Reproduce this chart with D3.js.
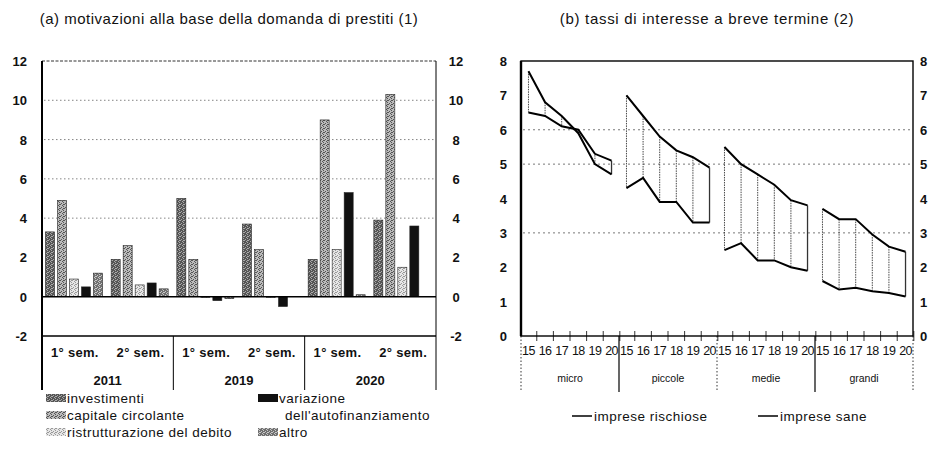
<!DOCTYPE html>
<html>
<head>
<meta charset="utf-8">
<script src="https://cdn.jsdelivr.net/npm/d3@7/dist/d3.min.js"></script>
<style>
  body { margin: 0; background: #fff; }
  text { font-family: "Liberation Sans", Arial, sans-serif; fill: #111; }
</style>
</head>
<body>
<div class="chart"></div>
<script>
var width = 933,
    height = 452;

// ---- data: panel (a)
var years = ["2011", "2019", "2020"];
var semesters = ["1° sem.", "2° sem."];
var seriesA = ["investimenti", "capitale circolante", "ristrutturazione del debito",
               "variazione dell'autofinanziamento", "altro"];
var investimenti = [3.3, 1.9, 5.0, 3.7, 1.9, 3.9];
var capitale = [4.9, 2.6, 1.9, 2.4, 9.0, 10.3];
var ristrutturazione = [0.9, 0.6, -0.05, -0.05, 2.4, 1.5];
var variazione = [0.5, 0.7, -0.2, -0.5, 5.3, 3.6];
var altro = [1.2, 0.4, -0.1, 0.0, 0.1, 0.0];
var ticksA = [-2, 0, 2, 4, 6, 8, 10, 12];
var gridA = [4, 6, 8, 10];

// ---- data: panel (b)
var groups = ["micro", "piccole", "medie", "grandi"];
var yearsB = ["15", "16", "17", "18", "19", "20"];
var rischiose = {
  micro:   [7.7, 6.8, 6.4, 5.9, 5.0, 4.7],
  piccole: [7.0, 6.4, 5.8, 5.4, 5.2, 4.9],
  medie:   [5.5, 5.0, 4.7, 4.4, 3.95, 3.8],
  grandi:  [3.7, 3.4, 3.4, 2.95, 2.6, 2.45]
};
var sane = {
  micro:   [6.5, 6.4, 6.1, 6.0, 5.3, 5.1],
  piccole: [4.3, 4.6, 3.9, 3.9, 3.3, 3.3],
  medie:   [2.5, 2.7, 2.2, 2.2, 2.0, 1.9],
  grandi:  [1.6, 1.35, 1.4, 1.3, 1.25, 1.15]
};
var ticksB = [0, 1, 2, 3, 4, 5, 6, 7, 8];
var gridB = [3, 5, 6];

var svg = d3.select(".chart").append("svg")
    .attr("width", width)
    .attr("height", height);

// stipple patterns for the greys
var defs = svg.append("defs");
function pattern(id, base, dot) {
  var p = defs.append("pattern")
      .attr("id", id)
      .attr("width", 4)
      .attr("height", 4)
      .attr("patternUnits", "userSpaceOnUse");
  p.append("rect").attr("width", 4).attr("height", 4).attr("fill", base);
  [[0, 0], [2, 1], [1, 3], [3, 2], [3, 0]].forEach(function(c) {
    p.append("rect").attr("x", c[0]).attr("y", c[1]).attr("width", 1).attr("height", 1).attr("fill", dot);
  });
}
pattern("pInv", "#555", "#aaa");
pattern("pCap", "#bbb", "#555");
pattern("pRis", "#e6e6e6", "#999");
pattern("pAlt", "#707070", "#c8c8c8");
var fills = ["url(#pInv)", "url(#pCap)", "url(#pRis)", "#111", "url(#pAlt)"];

// ================= panel (a) =================
var semKeys = [];
years.forEach(function(y) { semesters.forEach(function(s) { semKeys.push(y + "|" + s); }); });

var xA = d3.scaleBand().domain(semKeys).range([42, 436]);
var xInner = d3.scaleBand().domain(seriesA).range([2, 62]).paddingInner(0.25).paddingOuter(0.125);
var yA = d3.scaleLinear().domain([-2, 12]).range([336, 61]);

var valuesA = [investimenti, capitale, ristrutturazione, variazione, altro];

var panelA = svg.append("g");

panelA.selectAll(".gridA").data(gridA).enter().append("line")
    .attr("x1", 44).attr("x2", 436)
    .attr("y1", function(d) { return yA(d); })
    .attr("y2", function(d) { return yA(d); })
    .attr("stroke", "#666")
    .attr("stroke-width", 0.8)
    .attr("stroke-dasharray", "1.5,2.5");

// top border dotted
panelA.append("line")
    .attr("x1", 42).attr("x2", 436)
    .attr("y1", yA(12)).attr("y2", yA(12))
    .attr("stroke", "#333").attr("stroke-width", 1).attr("stroke-dasharray", "3,1.5");

seriesA.forEach(function(name, i) {
  panelA.selectAll(".bar" + i).data(valuesA[i]).enter().append("rect")
      .attr("x", function(d, j) { return xA(semKeys[j]) + xInner(name); })
      .attr("width", xInner.bandwidth())
      .attr("y", function(d) { return yA(Math.max(0, d)); })
      .attr("height", function(d) { return Math.abs(yA(d) - yA(0)); })
      .attr("fill", fills[i])
      .attr("stroke", "#222")
      .attr("stroke-width", function(d) { return d === 0 ? 0 : 0.6; });
});

// zero line
panelA.append("line")
    .attr("x1", 42).attr("x2", 436)
    .attr("y1", yA(0)).attr("y2", yA(0))
    .attr("stroke", "#000").attr("stroke-width", 1.6);

// frame
panelA.append("line")
    .attr("x1", 42).attr("x2", 42).attr("y1", 61).attr("y2", 390)
    .attr("stroke", "#000").attr("stroke-width", 2);
panelA.append("line")
    .attr("x1", 436).attr("x2", 436).attr("y1", 61).attr("y2", 390)
    .attr("stroke", "#000").attr("stroke-width", 1);
panelA.append("line")
    .attr("x1", 42).attr("x2", 436).attr("y1", 336).attr("y2", 336)
    .attr("stroke", "#000").attr("stroke-width", 1.3);

// year separators below
[1, 2].forEach(function(k) {
  var xs = xA(semKeys[k * 2]);
  panelA.append("line")
      .attr("x1", xs).attr("x2", xs).attr("y1", 336).attr("y2", 390)
      .attr("stroke", "#000").attr("stroke-width", 1);
});

// y axes labels (left and right)
panelA.selectAll(".tlA").data(ticksA).enter().append("text")
    .attr("x", 27)
    .attr("y", function(d) { return yA(d) + 5; })
    .attr("text-anchor", "end")
    .style("font-size", "13px").style("font-weight", "bold")
    .text(function(d) { return d; });
panelA.selectAll(".trA").data(ticksA).enter().append("text")
    .attr("x", 456)
    .attr("y", function(d) { return yA(d) + 5; })
    .attr("text-anchor", "middle")
    .style("font-size", "13px").style("font-weight", "bold")
    .text(function(d) { return d; });

// semester & year labels
panelA.selectAll(".sem").data(semKeys).enter().append("text")
    .attr("x", function(d) { return xA(d) + xA.bandwidth() / 2; })
    .attr("y", 357)
    .attr("text-anchor", "middle")
    .style("font-size", "13px").style("font-weight", "bold")
    .style("letter-spacing", "0.3px")
    .text(function(d) { return d.split("|")[1]; });
panelA.selectAll(".yr").data(years).enter().append("text")
    .attr("x", function(d) { return xA(d + "|" + semesters[0]) + xA.bandwidth(); })
    .attr("y", 385)
    .attr("text-anchor", "middle")
    .style("font-size", "13px").style("font-weight", "bold")
    .text(function(d) { return d; });

// title (a)
svg.append("text")
    .attr("x", 229).attr("y", 24)
    .attr("text-anchor", "middle")
    .style("font-size", "15px")
    .style("letter-spacing", "0.5px")
    .text("(a) motivazioni alla base della domanda di prestiti (1)");

// legend (a)
var legA = [
  { i: 0, x: 46, y: 403, lines: ["investimenti"] },
  { i: 1, x: 46, y: 420, lines: ["capitale circolante"] },
  { i: 2, x: 46, y: 437, lines: ["ristrutturazione del debito"] },
  { i: 3, x: 258, y: 403, lines: ["variazione", "dell'autofinanziamento"] },
  { i: 4, x: 258, y: 437, lines: ["altro"] }
];
legA.forEach(function(l) {
  svg.append("rect")
      .attr("x", l.x).attr("y", l.y - 9)
      .attr("width", 20).attr("height", 8)
      .attr("fill", fills[l.i]);
  l.lines.forEach(function(t, k) {
    svg.append("text")
        .attr("x", l.x + 21 + (k > 0 ? 6 : 0))
        .attr("y", l.y + k * 17)
        .style("font-size", "13.5px")
        .style("letter-spacing", "0.5px")
        .text(t);
  });
});

// ================= panel (b) =================
var xG = d3.scaleBand().domain(groups).range([521, 913]);
var xY = d3.scalePoint().domain(yearsB).range([0, xG.bandwidth()]).padding(0.45);
var yB = d3.scaleLinear().domain([0, 8]).range([336, 61]);

var panelB = svg.append("g");

panelB.selectAll(".gridB").data(gridB).enter().append("line")
    .attr("x1", 523).attr("x2", 911)
    .attr("y1", function(d) { return yB(d); })
    .attr("y2", function(d) { return yB(d); })
    .attr("stroke", "#555")
    .attr("stroke-width", 0.8)
    .attr("stroke-dasharray", "2,3");

// frame
panelB.append("rect")
    .attr("x", 521).attr("y", 61)
    .attr("width", 392).attr("height", 275)
    .attr("fill", "none").attr("stroke", "#000").attr("stroke-width", 1.4);
panelB.append("line")
    .attr("x1", 521).attr("x2", 521).attr("y1", 61).attr("y2", 336)
    .attr("stroke", "#000").attr("stroke-width", 2.4);

var line = d3.line()
    .x(function(d) { return d.x; })
    .y(function(d) { return yB(d.v); });

groups.forEach(function(g) {
  var gx = xG(g);
  var gg = panelB.append("g");
  // vertical connectors
  gg.selectAll("line").data(yearsB).enter().append("line")
      .attr("x1", function(d) { return gx + xY(d); })
      .attr("x2", function(d) { return gx + xY(d); })
      .attr("y1", function(d, j) { return yB(rischiose[g][j]); })
      .attr("y2", function(d, j) { return yB(sane[g][j]); })
      .attr("stroke", "#333")
      .attr("stroke-width", function(d, j) { return j === 5 ? 1.3 : 0.9; })
      .attr("stroke-dasharray", function(d, j) { return j === 5 ? null : "1.5,1"; });
  [rischiose[g], sane[g]].forEach(function(vals) {
    gg.append("path")
        .datum(vals.map(function(v, j) { return { x: gx + xY(yearsB[j]), v: v }; }))
        .attr("d", line)
        .attr("fill", "none")
        .attr("stroke", "#000")
        .attr("stroke-width", 2);
  });
  // year ticks and labels
  gg.selectAll(".tk").data(yearsB).enter().append("line")
      .attr("x1", function(d) { return gx + xY(d) + xY.step() / 2; })
      .attr("x2", function(d) { return gx + xY(d) + xY.step() / 2; })
      .attr("y1", 331).attr("y2", 341)
      .attr("stroke", "#000").attr("stroke-width", 0.8);
  gg.selectAll(".yl").data(yearsB).enter().append("text")
      .attr("x", function(d) { return gx + xY(d); })
      .attr("y", 355)
      .attr("text-anchor", "middle")
      .style("font-size", "12.5px")
      .style("letter-spacing", "-0.6px")
      .text(function(d) { return d; });
  gg.append("text")
      .attr("x", gx + xG.bandwidth() / 2)
      .attr("y", 382)
      .attr("text-anchor", "middle")
      .style("font-size", "10.5px")
      .text(g);
});

// group separators below axis
groups.concat(["end"]).forEach(function(g, k) {
  var xs = g === "end" ? 913 : xG(g);
  panelB.append("line")
      .attr("x1", xs).attr("x2", xs).attr("y1", 336).attr("y2", 392)
      .attr("stroke", "#000")
      .attr("stroke-width", k % 2 === 1 ? 1.2 : 0.8)
      .attr("stroke-dasharray", k % 2 === 1 ? null : "1.5,2");
});

// y labels
panelB.selectAll(".tlB").data(ticksB).enter().append("text")
    .attr("x", 507)
    .attr("y", function(d) { return yB(d) + 5; })
    .attr("text-anchor", "end")
    .style("font-size", "13px").style("font-weight", "bold")
    .text(function(d) { return d; });
panelB.selectAll(".trB").data(ticksB).enter().append("text")
    .attr("x", 920)
    .attr("y", function(d) { return yB(d) + 5; })
    .style("font-size", "13px").style("font-weight", "bold")
    .text(function(d) { return d; });

// title (b)
svg.append("text")
    .attr("x", 707).attr("y", 24)
    .attr("text-anchor", "middle")
    .style("font-size", "15px")
    .style("letter-spacing", "0.7px")
    .text("(b) tassi di interesse a breve termine (2)");

// legend (b)
var legB = [
  { name: "imprese rischiose", x: 572 },
  { name: "imprese sane", x: 758 }
];
legB.forEach(function(l) {
  svg.append("line")
      .attr("x1", l.x).attr("x2", l.x + 20)
      .attr("y1", 416).attr("y2", 416)
      .attr("stroke", "#000").attr("stroke-width", 1.5);
  svg.append("text")
      .attr("x", l.x + 22).attr("y", 421)
      .style("font-size", "13.5px")
      .style("letter-spacing", "0.5px")
      .text(l.name);
});
</script>
</body>
</html>
